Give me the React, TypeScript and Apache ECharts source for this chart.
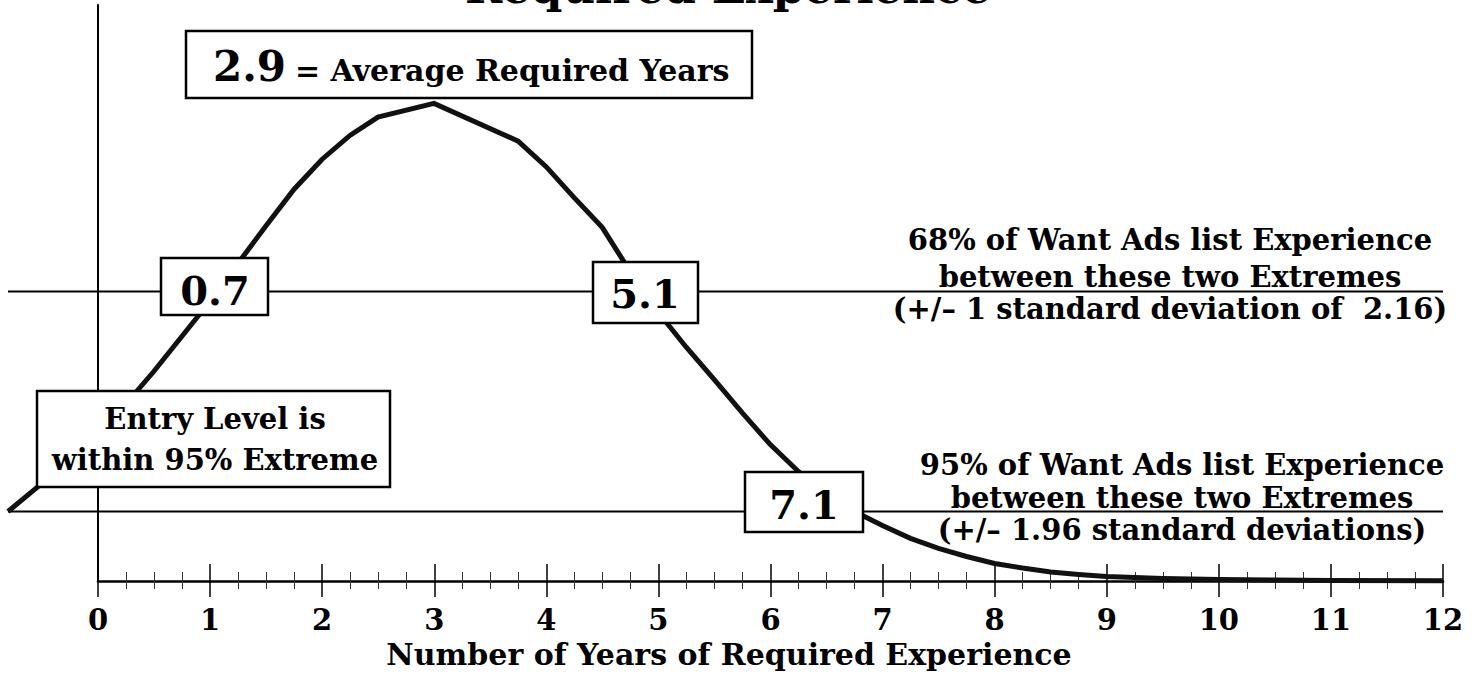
import React, { useEffect, useRef } from "react";
import * as echarts from "echarts";

// Years of required experience (x) and relative share of want ads (y, curve height)
const years = [-0.8, -0.5, 0, 0.5, 1.0, 1.25, 1.5, 1.75, 2.0, 2.25, 2.5, 3.0, 3.75, 4.0, 4.25, 4.5, 4.75, 5.0, 5.25, 5.5, 5.75, 6.0, 6.25, 6.5, 6.75, 7.0, 7.25, 7.5, 7.75, 8.0, 8.25, 8.5, 8.75, 9.0, 9.5, 10, 10.5, 11, 12];
const share = [2.69, 3.77, 5.59, 8.11, 10.82, 12.29, 13.74, 15.16, 16.32, 17.25, 17.96, 18.49, 17.03, 16.04, 14.84, 13.69, 11.98, 10.4, 9.05, 7.8, 6.51, 5.28, 4.24, 3.31, 2.69, 2.15, 1.65, 1.26, 0.95, 0.68, 0.5, 0.35, 0.25, 0.17, 0.1, 0.06, 0.04, 0.02, 0.01];

// Horizontal extreme lines (68% and 95%)
const extremeLevels = [11.21, 2.69];
const extremeSpan = [-0.8, 12];

const xTicks = [0, 12];
const yRange = [0, 22.3];
const titleText = "Required Experience";
const axisTitle = "Number of Years of Required Experience";
const averageValue = "2.9";
const averageLabel = "= Average Required Years";
const sd1Values = ["0.7", "5.1"];
const sd2Value = "7.1";
const note68 = ["68% of Want Ads list Experience", "between these two Extremes", "(+/– 1 standard deviation of  2.16)"];
const note95 = ["95% of Want Ads list Experience", "between these two Extremes", "(+/– 1.96 standard deviations)"];
const entryNote = ["Entry Level is", "within 95% Extreme"];

const FF = "'DejaVu Serif', serif";

function txt(text: string, x: number, y: number, size: number, align: string = "center") {
  return {
    type: "text",
    x,
    y,
    z: 101,
    style: {
      text,
      fontFamily: FF,
      fontWeight: "bold",
      fontSize: size,
      fill: "#000",
      align,
      verticalAlign: "middle",
    },
  };
}

function box(x: number, y: number, w: number, h: number) {
  return {
    type: "rect",
    z: 100,
    shape: { x, y, width: w, height: h },
    style: { fill: "#fff", stroke: "#000", lineWidth: 2.5 },
  };
}

export default function App() {
  const ref = useRef<HTMLDivElement>(null);
  useEffect(() => {
    if (!ref.current) return;
    const chart = echarts.init(ref.current, null, { renderer: "svg" });
    const mid = (baseline: number, size: number) => baseline - 0.346 * size;
    const graphic: any[] = [
      txt(titleText, 728, mid(3, 45), 45),
      box(186, 31, 566, 67),
      txt(averageValue, 213, mid(81, 42), 42, "left"),
      txt(averageLabel, 295, mid(81, 30), 30, "left"),
      box(161, 258, 107, 57),
      txt(sd1Values[0], 215, mid(304, 40), 40),
      box(593, 262, 105, 61),
      txt(sd1Values[1], 645, mid(307, 40), 40),
      box(745, 472, 118, 60),
      txt(sd2Value, 804, mid(518, 40), 40),
      box(37, 391, 353, 96),
      txt(entryNote[0], 215, mid(429, 29), 29),
      txt(entryNote[1], 215, mid(470, 29), 29),
      txt(note68[0], 1170, mid(250, 29), 29),
      txt(note68[1], 1170, mid(287, 29), 29),
      txt(note68[2], 1170, mid(319, 29), 29),
      txt(note95[0], 1182, mid(475, 29), 29),
      txt(note95[1], 1182, mid(508, 29), 29),
      txt(note95[2], 1182, mid(540, 29), 29),
      txt(axisTitle, 729, mid(665, 30), 30),
    ];
    const baseX = {
      type: "value",
      gridIndex: 1,
      min: xTicks[0],
      max: xTicks[1],
      interval: 1,
      position: "bottom",
      splitLine: { show: false },
      minorSplitLine: { show: false },
    };
    chart.setOption({
      animation: false,
      backgroundColor: "#fff",
      grid: [
        { left: 8, right: 38, top: 5, bottom: 95 },
        { left: 98, right: 38, top: 5, bottom: 95 },
      ],
      xAxis: [
        {
          type: "value",
          gridIndex: 0,
          min: extremeSpan[0],
          max: extremeSpan[1],
          show: false,
        },
        {
          ...baseX,
          axisLine: { show: true, lineStyle: { color: "#000", width: 2.5 } },
          axisTick: { show: true, inside: true, length: 17, lineStyle: { color: "#000", width: 1.5 } },
          minorTick: { show: true, splitNumber: 4, length: 9, lineStyle: { color: "#333", width: 1 } },
          axisLabel: {
            show: true,
            margin: 24,
            color: "#000",
            fontFamily: FF,
            fontWeight: "bold",
            fontSize: 29,
          },
        },
        {
          ...baseX,
          axisLine: { show: false },
          axisTick: { show: true, inside: false, length: 16, lineStyle: { color: "#000", width: 1.5 } },
          minorTick: { show: true, splitNumber: 4, length: 8, lineStyle: { color: "#333", width: 1 } },
          axisLabel: { show: false },
        },
      ],
      yAxis: [
        {
          type: "value",
          gridIndex: 0,
          min: yRange[0],
          max: yRange[1],
          show: false,
        },
        {
          type: "value",
          gridIndex: 1,
          min: yRange[0],
          max: yRange[1],
          axisLine: { show: true, lineStyle: { color: "#000", width: 2 } },
          axisTick: { show: false },
          axisLabel: { show: false },
          splitLine: { show: false },
        },
      ],
      series: [
        ...extremeLevels.map((lv) => ({
          type: "line",
          xAxisIndex: 0,
          yAxisIndex: 0,
          symbol: "none",
          silent: true,
          data: extremeSpan.map((x) => [x, lv]),
          lineStyle: { color: "#000", width: 2 },
          z: 3,
        })),
        {
          type: "line",
          xAxisIndex: 0,
          yAxisIndex: 0,
          clip: false,
          symbol: "none",
          data: years.map((x, i) => [x, share[i]]),
          lineStyle: { color: "#111", width: 5, join: "miter" },
          z: 4,
        },
      ],
      graphic,
    });
    return () => chart.dispose();
  }, []);
  return (
    <div
      ref={ref}
      style={{ position: "fixed", left: 0, top: 0, width: 1481, height: 676, background: "#fff" }}
    />
  );
}
